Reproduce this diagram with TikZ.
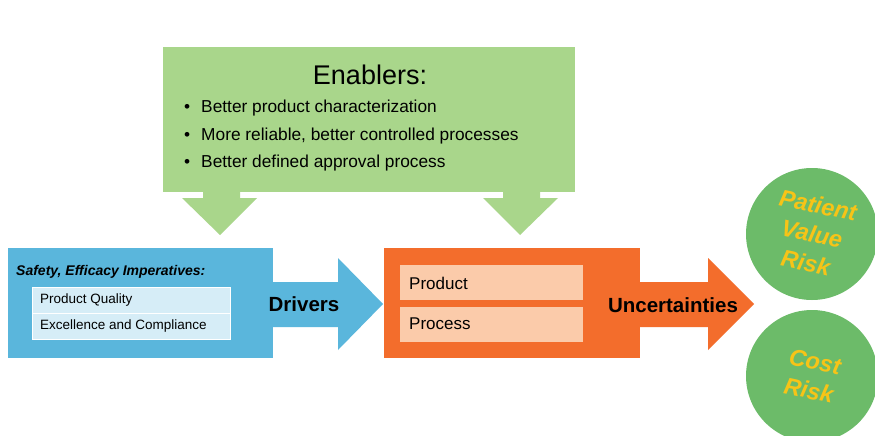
\documentclass[tikz,border=0pt]{standalone}
\usepackage{fontspec}
\setmainfont{Liberation Sans}
\usetikzlibrary{positioning}
\definecolor{enablergreen}{HTML}{A9D68B}
\definecolor{riskgreen}{HTML}{6CBB69}
\definecolor{driverblue}{HTML}{5AB6DC}
\definecolor{paleblue}{HTML}{D6EDF7}
\definecolor{uncorange}{HTML}{F36D2C}
\definecolor{paleorange}{HTML}{FBCBAA}
\definecolor{riskgold}{HTML}{F7C417}

\begin{document}
\begin{tikzpicture}[x=1pt,y=-1pt,
   panel/.style={draw=none,anchor=north west,inner sep=0pt},
   listitem/.style={anchor=west,inner sep=0pt,font=\fontsize{17.3}{19}\selectfont},
   subbox/.style={draw=white,line width=0.6pt,anchor=north west,inner sep=0pt},
   subtext/.style={anchor=west,inner sep=0pt},
   arrowlabel/.style={font=\fontsize{20.5}{22}\selectfont\bfseries},
   riskball/.style={circle,fill=riskgreen,minimum size=132pt,inner sep=0pt},
   risktext/.style={align=center,rotate=-12,inner sep=0pt,text=riskgold,
      font=\fontsize{23.5}{29.5}\selectfont\bfseries\itshape}]
\useasboundingbox (0,0) rectangle (875,436);
\fill[white] (0,0) rectangle (875,436);
% enablers panel with its two arrows
\node[panel,fill=enablergreen,minimum width=412,minimum height=145] (enablers) at (163,47) {};
\fill[enablergreen] (203,190) -- (240,190) -- (240,198) -- (257,198) -- (220,235)
   -- (182,198) -- (203,198) -- cycle;
\fill[enablergreen] (503,190) -- (540,190) -- (540,198) -- (558,198) -- (520,235)
   -- (483,198) -- (503,198) -- cycle;
\node[font=\fontsize{27}{30}\selectfont] (entitle) at (370,75) {Enablers:};
\node[listitem] (en1) at (184,108) {\textbullet\hspace{11pt}Better product characterization};
\node[listitem] (en2) at (184,136) {\textbullet\hspace{11pt}More reliable, better controlled processes};
\node[listitem] (en3) at (184,163) {\textbullet\hspace{11pt}Better defined approval process};
% drivers
\fill[driverblue] (268,282) -- (338,282) -- (338,258) -- (383,304) -- (338,350)
   -- (338,327) -- (268,327) -- cycle;
\node[panel,fill=driverblue,minimum width=265,minimum height=110] (drivbox) at (8,248) {};
\node[anchor=west,inner sep=0pt,font=\fontsize{14}{16}\selectfont\bfseries\itshape] (imper) at (16,272) {Safety, Efficacy Imperatives:};
\node[subbox,fill=paleblue,minimum width=198,minimum height=26] (quality) at (32,287) {};
\node[subbox,fill=paleblue,minimum width=198,minimum height=26] (compliance) at (32,313) {};
\node[subtext,font=\fontsize{13.5}{15}\selectfont] at (40,300) {Product Quality};
\node[subtext,font=\fontsize{13.5}{15}\selectfont] at (40,326) {Excellence and Compliance};
\node[arrowlabel] (drivers) at (304,304) {Drivers};
% uncertainties
\fill[uncorange] (635,282) -- (708,282) -- (708,258) -- (754,304) -- (708,350)
   -- (708,327) -- (635,327) -- cycle;
\node[panel,fill=uncorange,minimum width=256,minimum height=110] (uncbox) at (384,248) {};
\node[subbox,draw=none,fill=paleorange,minimum width=183,minimum height=35] (product) at (400,265) {};
\node[subbox,draw=none,fill=paleorange,minimum width=183,minimum height=35] (process) at (400,307) {};
\node[subtext,font=\fontsize{17}{19}\selectfont] at (409,283) {Product};
\node[subtext,font=\fontsize{17}{19}\selectfont] at (409,324) {Process};
\node[arrowlabel] (uncert) at (673,305) {Uncertainties};
% risks
\node[riskball] (valueball) at (812,234) {};
\node[riskball] (costball) at (812,376) {};
\node[risktext] (valuerisk) at (valueball) {Patient\\Value\\Risk};
\node[risktext] (costrisk) at (costball) {Cost\\Risk};
\end{tikzpicture}
\end{document}
